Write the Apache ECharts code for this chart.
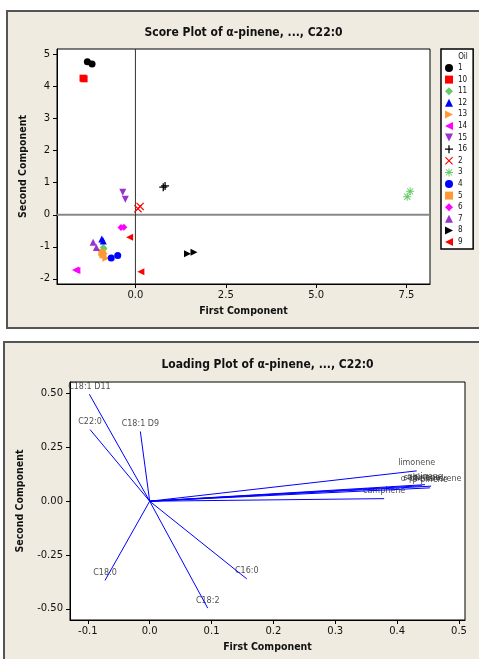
<!DOCTYPE html>
<html>
<head>
<meta charset="utf-8">
<script src="https://cdn.jsdelivr.net/npm/echarts@6/dist/echarts.min.js"></script>
<style>
html,body{margin:0;padding:0;background:#fff;}
#main{width:479px;height:659px;}
</style>
</head>
<body>
<div id="main"></div>
<script>
// ---------- Score plot data ----------
const oils = ['1','10','11','12','13','14','15','16','2','3','4','5','6','7','8','9'];
const oilColors = ['#000000','#ff0000','#66cc66','#0000ff','#ff9933','#ff00ff','#9933cc','#000000',
                   '#ff0000','#66cc66','#0000ff','#ff9933','#ff00ff','#9933cc','#000000','#ff0000'];
const scorePC1 = [
  [-1.33,-1.20],[-1.45,-1.42],[-0.89,-0.87],[-0.93,-0.89],[-0.86,-0.82],[-1.66,-1.62],[-0.35,-0.28],[0.77,0.82],
  [0.07,0.13],[7.52,7.60],[-0.67,-0.49],[-0.93,-0.90],[-0.40,-0.32],[-1.17,-1.08],[1.44,1.62],[-0.16,0.15]
];
const scorePC2 = [
  [4.77,4.70],[4.26,4.24],[-1.02,-1.06],[-0.76,-0.82],[-1.22,-1.36],[-1.72,-1.74],[0.70,0.48],[0.86,0.90],
  [0.19,0.26],[0.56,0.73],[-1.35,-1.27],[-1.18,-1.25],[-0.40,-0.39],[-0.86,-1.02],[-1.22,-1.17],[-0.70,-1.78]
];
const scoreXTicks = [0, 2.5, 5, 7.5];
const scoreYTicks = [-2, -1, 0, 1, 2, 3, 4, 5];

// ---------- Loading plot data ----------
const loadingVars = ['C18:1 D11','C22:0','C18:1 D9','limonene','sabinene','α-pinene','α-phellandrene','β-pinene','camphene','C16:0','C18:2','C18:0'];
const loadingPC1 = [-0.0975,-0.0964,-0.0151,0.4316,0.440,0.445,0.455,0.453,0.379,0.157,0.0938,-0.0722];
const loadingPC2 = [0.497,0.333,0.324,0.141,0.072,0.077,0.070,0.062,0.012,-0.361,-0.497,-0.368];
const loadXTicks = [-0.1, 0, 0.1, 0.2, 0.3, 0.4, 0.5];
const loadYTicks = [-0.5, -0.25, 0, 0.25, 0.5];

// symbols per oil
const P = {
  rtri: 'path://M0,0L10,5L0,10Z',
  ltri: 'path://M10,0L0,5L10,10Z',
  dtri: 'path://M0,0L10,0L5,10Z',
  plus: 'path://M4.2,0H5.8V4.2H10V5.8H5.8V10H4.2V5.8H0V4.2H4.2Z',
  cross: 'path://M1,0L5,4L9,0L10,1L6,5L10,9L9,10L5,6L1,10L0,9L4,5L0,1Z',
  star: 'path://M4.4,0H5.6V4.4H10V5.6H5.6V10H4.4V5.6H0V4.4H4.4ZM1.5,0.7L5,4.2L8.5,0.7L9.3,1.5L5.8,5L9.3,8.5L8.5,9.3L5,5.8L1.5,9.3L0.7,8.5L4.2,5L0.7,1.5Z'
};
const oilSymbols = ['circle','rect','diamond','triangle',P.rtri,P.ltri,P.dtri,P.plus,
                    P.cross,P.star,'circle','rect','diamond','triangle',P.rtri,P.ltri];

const sxMin = -2.17, sxMax = 8.15, syMin = -2.16, syMax = 5.17;
const lxMin = -0.1288, lxMax = 0.5097, lyMin = -0.552, lyMax = 0.554;

const chart = echarts.init(document.getElementById('main'));
const F = 'DejaVu Sans';
const FC = 'DejaVu Sans Condensed';

const series = [];
// reference lines at zero (score plot)
series.push({type:'line', xAxisIndex:0, yAxisIndex:0, data:[[sxMin,0],[sxMax,0]], symbol:'none', silent:true,
  lineStyle:{color:'#888', width:2}, z:1});
series.push({type:'line', xAxisIndex:0, yAxisIndex:0, data:[[0,syMin],[0,syMax]], symbol:'none', silent:true,
  lineStyle:{color:'#333', width:1}, z:1});
oils.forEach((o,i)=>{
  series.push({
    name:o, type:'scatter', xAxisIndex:0, yAxisIndex:0,
    symbol: oilSymbols[i], symbolSize: (oilSymbols[i]===P.plus||oilSymbols[i]===P.cross||oilSymbols[i]===P.star)?8:7,
    itemStyle:{color:oilColors[i], opacity:1},
    data: scorePC1[i].map((x,j)=>[x, scorePC2[i][j]]), z:3
  });
});
loadingVars.forEach((v,i)=>{
  series.push({type:'line', xAxisIndex:1, yAxisIndex:1, symbol:'none', silent:true,
    lineStyle:{color:'#0000ff', width:1},
    data:[[0,0],[loadingPC1[i], loadingPC2[i]]]});
});
series.push({type:'scatter', xAxisIndex:1, yAxisIndex:1, symbolSize:1, silent:true,
  itemStyle:{color:'rgba(0,0,0,0)'},
  label:{show:true, position:'top', distance:3, color:'#222', fontFamily:F, fontSize:8,
    formatter:(p)=>loadingVars[p.dataIndex]},
  data: loadingVars.map((v,i)=>[loadingPC1[i], loadingPC2[i]])});

function valAxis(gi, min, max, ticks, digits, name, nameGap, isY){
  return {
    type:'value', gridIndex:gi, min:min, max:max,
    name:name, nameLocation:'middle', nameGap:nameGap,
    nameTextStyle:{fontFamily:FC, fontWeight:'bold', fontSize:10.5, color:'#111'},
    axisLine:{show:true, onZero:false, lineStyle:{color:'#000', width:1}},
    axisTick:{show:true, length:4, customValues:ticks, lineStyle:{color:'#000'}},
    axisLabel:{show:true, customValues:ticks, margin:isY?7:6, fontFamily:F, fontSize:10, color:'#111',
      formatter:(v)=>digits===0?String(Math.round(v)):(Math.abs(v)<1e-9?(0).toFixed(digits):v.toFixed(digits))},
    splitLine:{show:false}
  };
}

chart.setOption({
  animation:false,
  backgroundColor:'#ffffff',
  graphic:[
    {type:'rect', shape:{x:7,y:11,width:480,height:317}, style:{fill:'#efebe1', stroke:'#555', lineWidth:2}, z:-10},
    {type:'rect', shape:{x:4,y:342,width:480,height:330}, style:{fill:'#efebe1', stroke:'#555', lineWidth:2}, z:-10},
    {type:'text', x:243.5, y:33, style:{text:'Score Plot of α-pinene, ..., C22:0', font:'bold 12px "DejaVu Sans Condensed"', fill:'#111', align:'center', verticalAlign:'middle'}, z:10},
    {type:'text', x:267.5, y:365, style:{text:'Loading Plot of α-pinene, ..., C22:0', font:'bold 12px "DejaVu Sans Condensed"', fill:'#111', align:'center', verticalAlign:'middle'}, z:10},
    {type:'text', x:463, y:57, style:{text:'Oil', font:'8px "DejaVu Sans Condensed"', fill:'#111', align:'center', verticalAlign:'middle'}, z:20}
  ],
  grid:[
    {left:57, top:49, width:373, height:235, show:true, backgroundColor:'#fff', borderColor:'#000', borderWidth:1},
    {left:70, top:382, width:395, height:238, show:true, backgroundColor:'#fff', borderColor:'#000', borderWidth:1}
  ],
  xAxis:[
    valAxis(0, sxMin, sxMax, scoreXTicks, 1, 'First Component', 22, false),
    valAxis(1, lxMin, lxMax, loadXTicks, 1, 'First Component', 22, false)
  ],
  yAxis:[
    valAxis(0, syMin, syMax, scoreYTicks, 0, 'Second Component', 17, true),
    valAxis(1, lyMin, lyMax, loadYTicks, 2, 'Second Component', 34, true)
  ],
  legend:{
    orient:'vertical', left:441, top:49, data:oils,
    padding:[15,6,3,4], itemWidth:8, itemHeight:8, itemGap:3.6,
    backgroundColor:'#fff', borderColor:'#000', borderWidth:1.5, borderRadius:0,
    textStyle:{fontFamily:FC, fontSize:8, color:'#111'},
    selectedMode:false
  },
  series:series
});
</script>
</body>
</html>
